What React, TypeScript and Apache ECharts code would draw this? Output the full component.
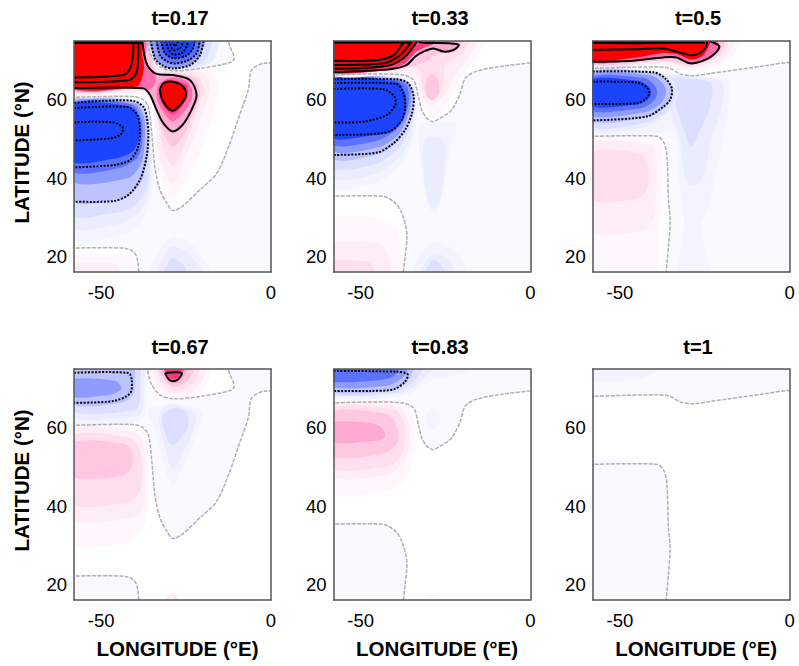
import React, { useEffect, useRef } from "react";
import * as echarts from "echarts";

type Pt = number[];

const TITLES = ["t=0.17", "t=0.33", "t=0.5", "t=0.67", "t=0.83", "t=1"];
const LON_TICKS = [-50, 0];
const LAT_TICKS = [20, 40, 60];
const POS_COLORS = ["#ffffff", "#fff7fb", "#ffedf5", "#ffdfee", "#ffc8e0", "#ffa8d0", "#ff6cae", "#ff3a7a", "#ff0000"];
const NEG_COLORS = ["#ffffff", "#f9f9ff", "#f3f4ff", "#ebedff", "#dcdfff", "#bcc3ff", "#8e9cff", "#5a72ff", "#1a44ff"];

const RECT: Pt[] = [[-59, 15], [1, 15], [1, 76], [-59, 76]];
const TOP: Pt[] = [[1, 76], [-59, 76]];

// nodal (zero) lines
const NODE_A: Pt[] = [[-59, 60.6], [-50.3, 60.8], [-40.5, 60.8], [-37.6, 60], [-36.1, 58.2], [-35.1, 51.4], [-34.2, 42.9], [-32.7, 37], [-30.7, 33.6], [-29, 31.7], [-26.3, 32.7], [-20.9, 37], [-16, 41.2], [-12.1, 48.9], [-9.1, 56.5], [-6.7, 62.5], [-5.7, 67.6], [-2.3, 69.3], [1, 69.3]];
const NODE_T: Pt[] = [[-36.6, 76], [-36, 73.2], [-35.1, 71], [-32.7, 68.4], [-28.8, 67.4], [-20.9, 68], [-12.1, 69.5], [-10.8, 70.6], [-12.1, 73.6], [-13, 76]];
const NODE_BL: Pt[] = [[-59, 22.1], [-43.5, 22.1], [-40.5, 21.2], [-39.3, 19.1], [-38.9, 15]];
const NODE_B: Pt[] = [[-59, 66.3], [-47.2, 66.6], [-37.4, 66.3], [-34.4, 65], [-33, 60.8], [-32, 57.4], [-30.5, 55.3], [-28.8, 54.4], [-26.6, 55.3], [-23.2, 57.4], [-20.7, 61.6], [-19.2, 65.5], [-15.8, 67.3], [-8, 68.6], [1, 69.5]];
const NODE_BL2: Pt[] = [[-59, 35.3], [-43.3, 35.3], [-39.8, 33.6], [-37.9, 31], [-36.4, 25.9], [-36.9, 20], [-37.6, 15]];
const NODE_C: Pt[] = [[-59, 68], [-39.2, 68.4], [-35.2, 68], [-32.3, 66.6], [-28.4, 66.1], [-24.4, 66.6], [-17.6, 67.4], [-7.8, 68.6], [-1, 69.5], [1, 69.3]];
const NODE_CL: Pt[] = [[-59, 50.6], [-39.2, 50.7], [-37.2, 49.3], [-36.2, 46.3], [-35.7, 34.4], [-35.2, 29.3], [-35.7, 22.5], [-36.5, 15]];

const BELOW_LEFT = (n: Pt[]) => [...n, [-59, 15]];
const ABOVE = (n: Pt[]) => [...n, ...TOP];

// panel 1 contours
const P1_POS_OUTER: Pt[] = [[-38, 76], [-37.3, 71.4], [-36.1, 68.4], [-33.7, 66.6], [-28.8, 66.3], [-23.8, 65], [-21.9, 61.2], [-23.4, 57.4], [-26, 53.6], [-29, 51.9], [-31.7, 54], [-33.7, 57.4], [-35.6, 61.2], [-37.6, 62.9], [-59, 62.9]];
const P1_POS_A: Pt[] = [[-59, 65.7], [-43.5, 66.3], [-41.5, 68], [-40.7, 71], [-40.5, 76]];
const P1_POS_B: Pt[] = [[-59, 64.5], [-42, 65], [-39.7, 66.7], [-39.1, 70.1], [-39.1, 76]];
const P1_CORE: Pt[] = [[-32.7, 62.5], [-31.7, 64.2], [-28.8, 64.6], [-25.8, 63.3], [-25, 61.2], [-26.3, 59.1], [-28.8, 57.2], [-30.7, 58.2], [-32.2, 60.4]];
const P1_NEG_1: Pt[] = [[-59, 59.1], [-50, 59.7], [-40.5, 59.7], [-37.6, 58.2], [-36.6, 55.7], [-36.1, 51.4], [-36.6, 45.5], [-38.6, 39.5], [-42, 35.7], [-46.4, 34.1], [-59, 34]];
const P1_NEG_2: Pt[] = [[-59, 57.8], [-42.5, 58.2], [-39.6, 56.5], [-38.6, 53.1], [-39.1, 48], [-41.5, 44.6], [-46.4, 43.3], [-59, 42.7]];
const P1_NEG_3: Pt[] = [[-59, 54.2], [-46.4, 54.2], [-43.5, 52.7], [-44.5, 51], [-47.4, 50.1], [-59, 49.6]];
const R1: Pt[] = [[-35.5, 76], [-34.2, 70.6], [-31.7, 68.6], [-28.8, 68], [-23.9, 68.8], [-20.9, 71.4], [-19.7, 76]];
const R2: Pt[] = [[-33.7, 76], [-32.6, 71.2], [-29, 69.3], [-24.5, 70], [-21.8, 72], [-20.9, 76]];
const R3: Pt[] = [[-32.5, 76], [-31.3, 72], [-28.8, 70.6], [-25, 71.2], [-23, 73], [-22.4, 76]];
const R4: Pt[] = [[-31.2, 76], [-30.2, 73], [-28.8, 71.6], [-25.8, 72.2], [-23.9, 76]];
const R5: Pt[] = [[-30.2, 76], [-28.8, 72.7], [-26.8, 73.2], [-25.3, 76]];
const R6: Pt[] = [[-29.5, 76], [-28.2, 73.7], [-26.8, 76]];
const BAND_1: Pt[] = [[-59, 74.7], [-38, 74.7]];

// panel 2 contours
const P2_POS_1: Pt[] = [[-59, 70], [-45.2, 70.1], [-40.3, 71.4], [-37.9, 74], [-36.4, 76]];
const P2_POS_2: Pt[] = [[-59, 68.9], [-43.3, 69.3], [-38.4, 71.4], [-35.4, 74.4], [-34.5, 76]];
const P2_POS_3: Pt[] = [[-59, 67.9], [-42.3, 68.6], [-37.4, 70.6], [-34.4, 73.6], [-33, 76]];
const P2_POS_4: Pt[] = [[-59, 67], [-41.3, 67.8], [-36.4, 68.9], [-34, 71], [-31.5, 72.3], [-28.6, 73.1], [-25.6, 72.3], [-22.7, 72.7], [-21.1, 74], [-23.7, 74.4], [-32.5, 74.7], [-34.4, 76]];
const P2_NEG_1: Pt[] = [[-59, 65.2], [-39.4, 65.2], [-36, 64.2], [-34.4, 60.8], [-34.9, 56.5], [-36.9, 52.3], [-40.3, 48.9], [-45.2, 46.5], [-59, 45.9]];
const P2_NEG_2: Pt[] = [[-59, 64.2], [-39.4, 64], [-37.4, 61.6], [-36.9, 58.2], [-37.9, 54.8], [-41.3, 52], [-47.2, 51.2], [-59, 51]];
const P2_NEG_3: Pt[] = [[-59, 62.7], [-43.3, 62.7], [-40.1, 60.8], [-39.8, 58.7], [-42.3, 56.1], [-49.2, 54.4], [-59, 54.2]];
const BAND_2: Pt[] = [[-59, 74.8], [-35, 74.8]];

// panel 3 contours
const P3_POS_1: Pt[] = [[-59, 72.7], [-45, 72.9], [-37.2, 73.1], [-33.3, 72.3], [-29.3, 71.4], [-26.4, 71.9], [-24.6, 73.7], [-24.2, 76]];
const P3_POS_2: Pt[] = [[-59, 69.7], [-47, 69.9], [-37.2, 70.8], [-33.3, 70.8], [-29.3, 69.3], [-25.4, 70], [-22.5, 71.4], [-20.7, 73.6], [-22.5, 74.6], [-24.4, 75.2]];
const P3_NEG_1: Pt[] = [[-59, 67.2], [-40.1, 67], [-36.7, 65.5], [-34.7, 62.9], [-35.2, 60], [-37.2, 58.2], [-42.1, 55.7], [-59, 54.7]];
const P3_NEG_2: Pt[] = [[-59, 64.6], [-45, 64.4], [-42.1, 63.2], [-41.3, 61.6], [-42.6, 60], [-45, 59.1], [-59, 58.9]];
const BAND_3: Pt[] = [[-59, 74.7], [-45, 74.6], [-30, 74.8], [-25, 74.8]];

// panel 4 contours
const P4_NEG: Pt[] = [[-59, 74], [-42, 74], [-41, 72.2], [-41.5, 68.8], [-46.4, 66.8], [-59, 66.4]];
const P4_POS: Pt[] = [[-31.2, 74], [-26.3, 74], [-27.3, 72.4], [-29, 71.9], [-30.2, 72.4]];

// panel 5 contours
const P5_NEG: Pt[] = [[-59, 74.5], [-39.4, 74.3], [-36.2, 73.7], [-36.9, 71.8], [-40.3, 69.8], [-47.2, 69.4], [-59, 69.4]];

type Fill = [Pt[], number];
type Line = [Pt[], "zero" | "pos" | "neg" | "band"];

const FILLS_1: Fill[] = [
  [RECT, -1], [ABOVE(NODE_A), 0], [BELOW_LEFT(NODE_BL), 0],
  [[[-59, 20], [-42, 20], [-40, 18], [-39.6, 15], [-59, 15]], 1],
  [[[-59, 18], [-46, 18], [-44, 15.5], [-44, 15], [-59, 15]], 2],
  [[[-35.6, 15], [-33.5, 21], [-29, 25], [-23, 23], [-18, 15]], -2],
  [[[-33.5, 15], [-31.5, 20], [-29, 22.5], [-24, 20.5], [-20, 15]], -3],
  [[[-31.5, 15], [-29, 19.5], [-25.5, 17.5], [-25, 15]], -4],
  [[[-59, 59.5], [-38, 59.8], [-35.9, 57], [-35.2, 50], [-34.6, 43], [-35.2, 36], [-38, 29], [-43, 25.5], [-59, 25]], -2],
  [[[-59, 59.5], [-38.5, 59.5], [-36, 56.5], [-35.6, 50], [-35.2, 43], [-36, 36.5], [-39, 31], [-45, 28.2], [-59, 28]], -3],
  [[[-59, 59.5], [-39, 59.5], [-36.3, 56], [-36, 50], [-35.8, 43], [-37, 36.5], [-41, 32.5], [-47, 31], [-59, 30.8]], -4],
  [[[-59, 59.3], [-39.5, 59.3], [-36.8, 55.5], [-36.4, 50], [-36.6, 44], [-38.6, 38.5], [-43, 35], [-59, 34.5]], -5],
  [[[-59, 59], [-40, 59], [-37.4, 55.5], [-37.2, 49], [-38.4, 43.5], [-42, 40], [-59, 39.5]], -6],
  [[[-59, 58.6], [-41, 58.8], [-38.2, 55], [-38, 49], [-39.5, 45], [-45, 42.5], [-59, 42]], -7],
  [[[-59, 58.4], [-42, 58.4], [-39.2, 56], [-38.7, 51], [-40.5, 47], [-46, 45], [-59, 44.5]], -8],
  [[[-35, 61], [-34.4, 50], [-33.2, 42], [-31, 37], [-29, 34.5], [-26.5, 37], [-22.5, 43], [-19.5, 50], [-16.5, 58], [-15.5, 65], [-20, 69], [-28, 69], [-34.5, 69], [-37, 76], [-59, 76], [-59, 61.4], [-38, 61.4]], 1],
  [[[-34.5, 58], [-33, 46], [-29, 38.5], [-25.5, 45], [-23, 50], [-19.5, 58], [-18, 64], [-20, 67], [-28, 68], [-33, 68], [-36, 76], [-59, 76], [-59, 61.8], [-37.5, 61.8]], 2],
  [[[-34, 57], [-31.8, 48], [-29, 43], [-26, 47.5], [-23.5, 53], [-21, 59], [-19.8, 63], [-21.5, 66], [-28, 67.2], [-34, 67.8], [-36.5, 76], [-59, 76], [-59, 62.2], [-37.3, 62.2]], 3],
  [[[-34.2, 58.5], [-32.2, 52.5], [-29, 48], [-25.6, 51], [-22.8, 56.5], [-21, 61], [-22.2, 65.4], [-28.6, 66.8], [-34, 67.2], [-36.8, 76], [-59, 76], [-59, 62.6], [-37.4, 62.6]], 4],
  [[...P1_POS_OUTER, [-59, 76]], 5],
  [[[-33.5, 60], [-33, 64], [-29, 65.7], [-24.5, 64.5], [-23.2, 61], [-25, 57.5], [-28.8, 54.5], [-31, 56]], 6],
  [[[-59, 63], [-38, 63], [-36, 62.5], [-34.5, 63.5], [-34, 66], [-36, 67.5], [-36.8, 70], [-37.4, 76], [-59, 76]], 6],
  [[[-33, 61], [-31.5, 64.7], [-28.8, 65], [-25, 63.8], [-24.4, 61.2], [-26, 58.5], [-28.8, 56.2], [-31, 57.5]], 7],
  [[[-59, 63.4], [-39.5, 63.4], [-38, 65.5], [-37.4, 68.5], [-38, 72], [-38.2, 76], [-59, 76]], 8],
  [P1_CORE, 8],
  [NODE_T, -1],
  [[[-36, 76], [-35, 71.5], [-32, 68.3], [-28.8, 67.6], [-22, 68], [-17, 70], [-16, 76]], -3],
  [[[-35.8, 76], [-34.6, 71], [-32, 68.4], [-28.8, 67.8], [-23, 68.3], [-19, 70.5], [-18, 76]], -4],
  [R1, -6], [R2, -7], [R3, -8],
];
const LINES_1: Line[] = [
  [NODE_A, "zero"], [NODE_T, "zero"], [NODE_BL, "zero"],
  [P1_POS_OUTER, "pos"], [P1_POS_A, "pos"], [P1_POS_B, "pos"], [[...P1_CORE, P1_CORE[0]], "pos"],
  [P1_NEG_1, "neg"], [P1_NEG_2, "neg"], [P1_NEG_3, "neg"],
  [R1, "neg"], [R2, "neg"], [R3, "neg"], [R4, "neg"], [R5, "neg"], [R6, "neg"], [BAND_1, "band"],
];

const FILLS_2: Fill[] = [
  [RECT, -1], [ABOVE(NODE_B), 0], [BELOW_LEFT(NODE_BL2), 0],
  [[[-59, 29.3], [-42, 29.3], [-39, 27], [-38.9, 15], [-59, 15]], 1],
  [[[-59, 23], [-44, 23], [-41.8, 20], [-41.6, 15], [-59, 15]], 2],
  [[[-59, 18.6], [-48, 18.6], [-46.2, 17], [-46, 15], [-59, 15]], 3],
  [[[-33, 52], [-32, 42], [-30, 33], [-28, 30.8], [-26, 35], [-24.5, 44], [-22, 54], [-28.8, 54], [-32, 54]], -2],
  [[[-31.5, 42], [-30, 33.6], [-28, 32], [-26.3, 36], [-25, 45], [-26, 50], [-31, 50]], -3],
  [[[-34.4, 15], [-33, 20], [-29, 23.3], [-23, 22], [-18.3, 15]], -2],
  [[[-32.5, 15], [-30.5, 19], [-28, 20.8], [-24, 19], [-22.7, 15]], -3],
  [[[-31, 15], [-28.8, 19], [-26, 17.5], [-25, 15]], -4],
  [[[-59, 65.8], [-38, 65.8], [-34, 64], [-33, 60], [-34, 52], [-37, 45], [-45, 39], [-59, 38]], -2],
  [[[-59, 65.8], [-38.5, 65.8], [-34.6, 63.5], [-33.6, 60], [-34.8, 52], [-37.8, 46], [-46, 41], [-59, 40.5]], -3],
  [[[-59, 65.6], [-39, 65.6], [-35, 63.5], [-34, 60], [-35.4, 53], [-39, 47.5], [-46, 43.5], [-59, 43]], -4],
  [[[-59, 65.5], [-39.2, 65.5], [-35.4, 63.8], [-34.4, 60.5], [-35.4, 55.5], [-38.8, 50], [-45, 46], [-59, 45.4]], -5],
  [[[-59, 65.3], [-39.4, 65.3], [-36, 64], [-35, 60.6], [-36, 56], [-39, 51], [-45, 47.8], [-59, 47.4]], -6],
  [[[-59, 65], [-39.6, 65], [-36.4, 63.6], [-35.8, 60], [-36.8, 56], [-40, 52], [-46, 49.3], [-59, 49]], -7],
  [[[-59, 64.8], [-39.6, 64.6], [-37, 62], [-36.6, 58.2], [-37.6, 54.8], [-41, 51.8], [-47, 50.8], [-59, 50.6]], -8],
  [[[-59, 66.4], [-38, 66.5], [-34, 65.3], [-32.8, 60.8], [-31, 57], [-28.8, 55.5], [-26.5, 57], [-24, 60], [-21.5, 64], [-19, 67.5], [-15, 72], [-13, 76], [-59, 76]], 1],
  [[[-59, 66.7], [-38, 66.8], [-33.5, 66], [-32, 61], [-29, 58.5], [-26, 60.5], [-24, 63], [-22, 66.5], [-18, 71], [-16, 76], [-59, 76]], 2],
  [[[-59, 67], [-37, 68], [-33, 68], [-31.5, 62.5], [-29, 60], [-26.5, 62], [-25.5, 65], [-25, 69], [-20, 72], [-18, 76], [-59, 76]], 3],
  [[[-31, 63], [-30.4, 65.6], [-29, 66.6], [-27.4, 65.6], [-26.8, 63], [-27.4, 60.8], [-29, 59.8], [-30.4, 60.8]], 4],
  [[[-59, 67.2], [-38, 68.2], [-35, 68.5], [-30, 70], [-28, 71.6], [-22, 72.4], [-20, 76], [-59, 76]], 4],
  [[[-59, 67], [-41.3, 67.8], [-36.4, 68.9], [-34, 71], [-31.5, 72.3], [-28.6, 73.1], [-25.6, 72.3], [-22.7, 72.7], [-21.1, 74], [-23, 76], [-59, 76]], 5],
  [[[-59, 67.2], [-41, 68], [-36.8, 69.4], [-34, 72], [-31.5, 73.2], [-28, 74.6], [-30, 76], [-59, 76]], 7],
  [[[-59, 67.6], [-42.3, 68.4], [-37.4, 70.4], [-34.6, 73.4], [-33.4, 76], [-59, 76]], 8],
];
const LINES_2: Line[] = [
  [NODE_B, "zero"], [NODE_BL2, "zero"],
  [P2_POS_1, "pos"], [P2_POS_2, "pos"], [P2_POS_3, "pos"], [P2_POS_4, "pos"],
  [P2_NEG_1, "neg"], [P2_NEG_2, "neg"], [P2_NEG_3, "neg"], [BAND_2, "band"],
];

const FILLS_3: Fill[] = [
  [RECT, -1], [ABOVE(NODE_C), 0], [BELOW_LEFT(NODE_CL), 0],
  [[[-59, 50], [-39, 50], [-37.5, 48], [-38.5, 25], [-40, 15], [-59, 15]], 1],
  [[[-59, 48.5], [-41, 48.5], [-39.5, 46], [-39.6, 32], [-42, 27], [-59, 26.7]], 2],
  [[[-59, 46.3], [-44, 46.3], [-41.9, 44], [-42, 37], [-45, 34.7], [-59, 34.7]], 3],
  [[[-59, 67.5], [-38, 67.5], [-33, 65.5], [-28, 65.5], [-22, 65.5], [-18, 65], [-18, 58], [-20, 48], [-22, 40], [-24, 32], [-26, 28], [-25, 22], [-23.5, 15], [-33, 15], [-32, 22], [-31, 28], [-32.5, 38], [-34, 52], [-38, 51.5], [-59, 51.5]], -2],
  [[[-36, 66], [-28, 65.8], [-20, 64.5], [-20, 58], [-23, 50], [-25, 42], [-27, 38.5], [-30, 38.5], [-31.5, 44], [-33, 52], [-35, 56]], -3],
  [[[-35, 65], [-28, 65.3], [-23, 64], [-23.5, 58], [-26.5, 52], [-29, 48], [-31, 52], [-33, 57]], -4],
  [[[-59, 67], [-39, 67], [-34.5, 65], [-33, 61], [-36, 56.5], [-43, 53], [-59, 52.5]], -3],
  [[[-59, 67], [-39.6, 67], [-35, 64.8], [-33.6, 61.2], [-36, 57.2], [-43, 54], [-59, 53.4]], -4],
  [[[-59, 66.8], [-40, 66.8], [-36, 64.8], [-34.4, 62], [-36, 58.8], [-42, 55.6], [-59, 54.8]], -5],
  [[[-59, 66.2], [-41, 66.2], [-37.6, 64.4], [-36.4, 62], [-38, 59], [-43, 56.8], [-59, 56.2]], -6],
  [[[-59, 65.6], [-43, 65.6], [-39.8, 63.8], [-39, 61.6], [-40.4, 59.4], [-44, 57.8], [-59, 57.4]], -7],
  [[[-59, 65], [-44.4, 64.8], [-41.4, 63.2], [-40.8, 61.6], [-42.2, 59.8], [-45, 58.8], [-59, 58.5]], -8],
  [[[-59, 68.6], [-39, 69], [-35, 68], [-31, 67.3], [-27, 67.5], [-21, 68.5], [-16.5, 71.5], [-14.5, 76], [-59, 76]], 1],
  [[[-59, 68.8], [-36, 69.3], [-30, 68], [-25, 68.5], [-20, 70], [-16.5, 76], [-59, 76]], 2],
  [[[-59, 69], [-36, 69.7], [-30, 68.5], [-25, 69.1], [-19.5, 72], [-18.5, 76], [-59, 76]], 3],
  [[[-59, 69.2], [-36, 70], [-30, 69], [-25.2, 69.6], [-21, 71.6], [-19.5, 76], [-59, 76]], 4],
  [[[-59, 69.7], [-47, 69.9], [-37.2, 70.8], [-33.3, 70.8], [-29.3, 69.3], [-25.4, 70], [-22.5, 71.4], [-20.7, 73.6], [-22.5, 76], [-59, 76]], 6],
  [[[-59, 70.2], [-45, 70.8], [-37, 72], [-33, 71.6], [-29.3, 70.3], [-26, 71], [-24.2, 73], [-23.6, 76], [-59, 76]], 8],
];
const LINES_3: Line[] = [
  [NODE_C, "zero"], [NODE_CL, "zero"],
  [P3_POS_1, "pos"], [P3_POS_2, "pos"],
  [P3_NEG_1, "neg"], [P3_NEG_2, "neg"], [BAND_3, "band"],
];

const FILLS_4: Fill[] = [
  [ABOVE(NODE_A), -1], [NODE_T, 0], [BELOW_LEFT(NODE_BL), -1],
  [[[-59, 30.9], [-42, 31], [-37, 36], [-36, 50], [-37.2, 58.6], [-40, 60], [-59, 60]], 1],
  [[[-59, 36.9], [-41, 37], [-37.6, 40], [-37, 50], [-38, 57], [-41, 59], [-59, 59]], 2],
  [[[-59, 40.9], [-42, 41], [-38.6, 44], [-38, 50], [-39, 55.5], [-42, 57.6], [-59, 57.6]], 3],
  [[[-59, 47.7], [-44, 47.7], [-41, 50], [-41, 54], [-43.5, 56], [-59, 56]], 4],
  [[[-31.7, 15], [-29, 17.7], [-26.3, 15]], 2],
  [[[-36.5, 64.5], [-34.2, 59.4], [-31.7, 51], [-29, 45.4], [-25.8, 50], [-21.9, 58.6], [-20, 64], [-25, 65.8], [-31, 65.8]], -2],
  [[[-33, 63], [-30, 66], [-25, 65], [-22, 63], [-24, 57], [-29, 49.5], [-31.5, 56]], -3],
  [[[-32, 63], [-29, 65], [-25, 64], [-24.5, 60], [-29, 55.5], [-31, 58]], -4],
  [[[-59, 61.5], [-39, 61.5], [-36.8, 64], [-36.8, 70], [-37, 76], [-59, 76]], -2],
  [[[-59, 63], [-39, 63], [-37.6, 65.5], [-37.6, 70], [-38, 76], [-59, 76]], -3],
  [[[-59, 64.5], [-40, 64.5], [-38.6, 67], [-38.6, 71], [-39, 76], [-59, 76]], -4],
  [[[-59, 66.2], [-44, 66.4], [-40.6, 68.4], [-40, 72], [-41, 76], [-59, 76]], -5],
  [[[-59, 68], [-47, 68.5], [-44, 70], [-46, 72], [-59, 72.2]], -6],
  [[[-36.5, 76], [-34.5, 71], [-31, 68.3], [-28, 67.8], [-23, 68], [-19, 71], [-18, 76]], 1],
  [[[-35, 76], [-33.5, 71.5], [-30.5, 69], [-28, 68.6], [-23.5, 69], [-20.5, 71.6], [-19.5, 76]], 2],
  [[[-33.5, 76], [-32.5, 72], [-30, 70], [-28, 69.5], [-24.5, 70.2], [-22, 72.4], [-21.5, 76]], 3],
  [[[-33, 76], [-31.5, 72.4], [-29, 70.6], [-26, 71], [-23.5, 73], [-23, 76]], 4],
  [[[-32.2, 76], [-30.5, 72.4], [-29, 71.4], [-26.5, 71.8], [-24.6, 76]], 5],
  [[[-31.6, 76], [-30.2, 72.6], [-29, 72], [-27, 72.4], [-25.6, 76]], 6],
  [[[-31.2, 76], [-30.2, 73], [-29, 72.4], [-27.3, 73], [-26.3, 76]], 7],
];
const LINES_4: Line[] = [
  [NODE_A, "zero"], [NODE_T, "zero"], [NODE_BL, "zero"],
  [P4_NEG, "neg"], [[...P4_POS, P4_POS[0]], "pos"],
];

const FILLS_5: Fill[] = [
  [ABOVE(NODE_B), -1], [BELOW_LEFT(NODE_BL2), -1],
  [[[-59, 43.7], [-42, 44], [-36, 48], [-34, 55], [-34.6, 63], [-37, 66], [-59, 66]], 1],
  [[[-59, 47.9], [-42, 48], [-37.5, 51], [-35.5, 56], [-36, 62], [-39, 65.4], [-59, 65.4]], 2],
  [[[-59, 50], [-42, 50.2], [-38, 53], [-37, 58], [-37.6, 62], [-40, 64.6], [-59, 64.6]], 3],
  [[[-59, 53], [-44, 53.2], [-39.6, 55.5], [-38.9, 58], [-40, 61.5], [-43, 63.7], [-59, 63.7]], 4],
  [[[-59, 56.5], [-46, 56.6], [-43, 57.6], [-43.3, 59.5], [-46, 61], [-59, 61.2]], 5],
  [[[-31.5, 15], [-29, 18], [-26, 15]], 1],
  [[[-31, 62], [-30.2, 64.2], [-29, 65], [-27.4, 64.2], [-26.5, 62], [-27.4, 60.4], [-29, 59.5], [-30.2, 60.4]], -2],
  [[[-59, 68], [-38, 68], [-33, 70], [-28, 72.5], [-20, 74], [-16, 76], [-59, 76]], -2],
  [[[-59, 68.5], [-39, 68.6], [-34, 70.5], [-31, 73], [-28, 76], [-59, 76]], -3],
  [[[-59, 68.8], [-40, 69], [-35.5, 71], [-33, 73], [-32, 76], [-59, 76]], -4],
  [[[-59, 69.4], [-41, 69.6], [-36.6, 71.5], [-35, 73.5], [-34.6, 76], [-59, 76]], -5],
  [[[-59, 70.6], [-42, 70.8], [-38, 72.6], [-36.5, 74], [-37, 76], [-59, 76]], -6],
  [[[-59, 72], [-44, 72.2], [-40, 73.4], [-39, 76], [-59, 76]], -7],
];
const LINES_5: Line[] = [
  [NODE_B, "zero"], [NODE_BL2, "zero"], [P5_NEG, "neg"],
];

const FILLS_6: Fill[] = [
  [ABOVE(NODE_C), -1], [BELOW_LEFT(NODE_CL), -1],
  [[[-59, 72], [-45, 72.4], [-40, 74], [-36, 76], [-59, 76]], -2],
];
const LINES_6: Line[] = [
  [NODE_C, "zero"], [NODE_CL, "zero"],
];

const PANEL_FILLS = [FILLS_1, FILLS_2, FILLS_3, FILLS_4, FILLS_5, FILLS_6];
const PANEL_LINES = [LINES_1, LINES_2, LINES_3, LINES_4, LINES_5, LINES_6];

const LEFTS = [74, 333.5, 592.7];
const TOPS = [41, 369];
const CENTERS = [175, 435, 693];
const TITLE_TOPS = [3, 332];
const FONT = "'Liberation Sans', Arial, sans-serif";

const levelColor = (v: number) => (v >= 0 ? POS_COLORS[v] : NEG_COLORS[-v]);

const lineStyleOf = (kind: string) => {
  if (kind === "pos") return { stroke: "#000", lineWidth: 2 };
  if (kind === "neg") return { stroke: "#000", lineWidth: 2, lineDash: [2, 1.5] };
  if (kind === "band") return { stroke: "#000", lineWidth: 3.5 };
  return { stroke: "#b0b0b0", lineWidth: 1.5, lineDash: [4, 1.4] };
};

function buildOption() {
  const grid: any[] = [];
  const xAxis: any[] = [];
  const yAxis: any[] = [];
  const series: any[] = [];
  const title: any[] = [];
  const frame = { show: true, onZero: false, lineStyle: { color: "#555", width: 1.5 } };
  const labelStyle = { color: "#000", fontFamily: FONT, fontSize: 18.5 };
  const nameStyle = { color: "#000", fontFamily: FONT, fontSize: 20.5, fontWeight: "bold" };
  TITLES.forEach((text, i) => {
    const col = i % 3;
    const row = Math.floor(i / 3);
    grid.push({ left: LEFTS[col], top: TOPS[row], width: 197, height: 231, show: false });
    title.push({
      text, left: CENTERS[col], top: TITLE_TOPS[row], textAlign: "center",
      textStyle: { color: "#000", fontFamily: FONT, fontSize: 20, fontWeight: "bold" },
    });
    xAxis.push({
      type: "value", gridIndex: i, min: -58, max: 0, position: "bottom", z: 10,
      axisLine: frame, axisTick: { show: false }, splitLine: { show: false },
      axisLabel: { ...labelStyle, margin: 11, customValues: LON_TICKS },
      name: row === 1 ? "LONGITUDE (°E)" : "", nameLocation: "middle", nameGap: 38,
      nameTextStyle: { ...nameStyle, padding: [0, 0, 0, 10] },
    });
    yAxis.push({
      type: "value", gridIndex: i, min: 16, max: 75, position: "left", z: 10,
      axisLine: frame, axisTick: { show: false }, splitLine: { show: false },
      axisLabel: { ...labelStyle, margin: 7, customValues: LAT_TICKS },
      name: col === 0 ? "LATITUDE (°N)" : "", nameLocation: "middle", nameGap: 42, nameTextStyle: { ...nameStyle, padding: [0, 0, 0, 8] },
    });
  });
  TITLES.forEach((_, i) => {
    xAxis.push({
      type: "value", gridIndex: i, min: -58, max: 0, position: "top", axisLine: frame, z: 10,
      axisTick: { show: false }, axisLabel: { show: false }, splitLine: { show: false },
    });
    yAxis.push({
      type: "value", gridIndex: i, min: 16, max: 75, position: "right", axisLine: frame, z: 10,
      axisTick: { show: false }, axisLabel: { show: false }, splitLine: { show: false },
    });
    const fills = PANEL_FILLS[i];
    const lines = PANEL_LINES[i];
    series.push({
      type: "custom", xAxisIndex: i, yAxisIndex: i, silent: true, clip: true,
      data: [...fills, ...lines].map((_, k) => [k]),
      renderItem: (_p: any, api: any) => {
        const k = api.value(0);
        if (k < fills.length) {
          const [pts, level] = fills[k];
          return {
            type: "polygon",
            shape: { points: pts.map((p) => api.coord(p)), smooth: 0.3 },
            style: { fill: levelColor(level), stroke: "none" },
          };
        }
        const [pts, kind] = lines[k - fills.length];
        return {
          type: "polyline",
          shape: { points: pts.map((p) => api.coord(p)), smooth: kind === "band" ? 0 : 0.3 },
          style: { fill: "none", ...lineStyleOf(kind) },
        };
      },
    });
  });
  return { animation: false, backgroundColor: "#fff", title, grid, xAxis, yAxis, series };
}

export default function App() {
  const ref = useRef<HTMLDivElement>(null);
  useEffect(() => {
    document.body.style.margin = "0";
    const chart = echarts.init(ref.current!, undefined, { renderer: "svg" });
    chart.setOption(buildOption() as any);
    return () => chart.dispose();
  }, []);
  return <div ref={ref} style={{ width: 799, height: 666 }} />;
}
